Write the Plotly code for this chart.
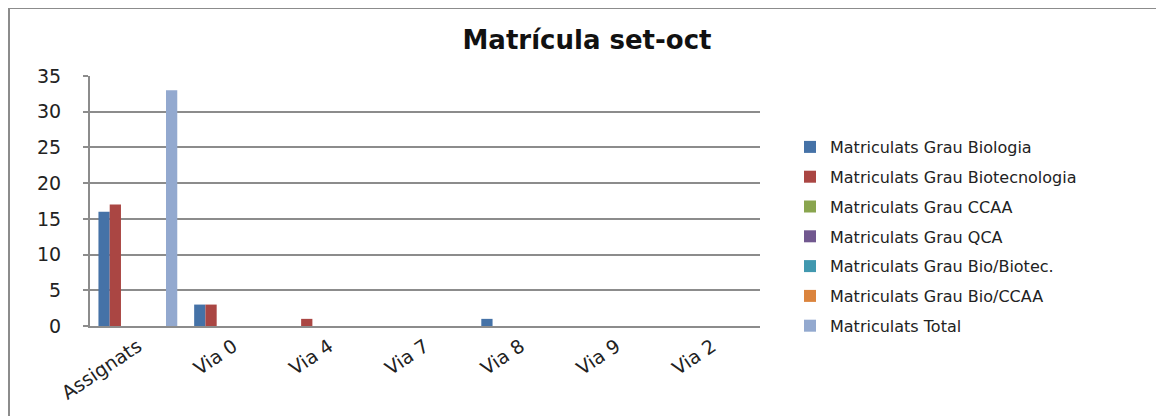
import plotly.graph_objects as go

categories = ["Assignats", "Via 0", "Via 4", "Via 7", "Via 8", "Via 9", "Via 2"]

series_names = [
    "Matriculats Grau Biologia",
    "Matriculats Grau Biotecnologia",
    "Matriculats Grau CCAA",
    "Matriculats Grau QCA",
    "Matriculats Grau Bio/Biotec.",
    "Matriculats Grau Bio/CCAA",
    "Matriculats Total",
]
biologia = [16, 3, 0, 0, 1, 0, 0]
biotecnologia = [17, 3, 1, 0, 0, 0, 0]
ccaa = [0, 0, 0, 0, 0, 0, 0]
qca = [0, 0, 0, 0, 0, 0, 0]
bio_biotec = [0, 0, 0, 0, 0, 0, 0]
bio_ccaa = [0, 0, 0, 0, 0, 0, 0]
total = [33, 0, 0, 0, 0, 0, 0]

series_values = [biologia, biotecnologia, ccaa, qca, bio_biotec, bio_ccaa, total]
colors = ["#4572A7", "#AA4643", "#89A54E", "#71588F", "#4198AF", "#DB843D", "#93A9CF"]

FONT = "DejaVu Sans"
GRID = "#8c8c8c"

fig = go.Figure()
for name, vals, col in zip(series_names, series_values, colors):
    fig.add_trace(go.Bar(x=categories, y=vals, name=name, legendgroup=name,
                         marker=dict(color=col, line=dict(width=0))))

# the page body adds an 8px margin, so work in screen pixels and shift
OFF = 8
W, H = 1164 - OFF, 416 - OFF
L, R, T, B = 90 - OFF, 760 - OFF, 76 - OFF, 326 - OFF
pw, ph = R - L, B - T

def px_x(p):
    return (p - OFF - L) / pw

def px_y(p):
    return (B - (p - OFF)) / ph

# outer chart border
fig.add_shape(type="rect", xref="paper", yref="paper",
              x0=px_x(9), x1=px_x(1162), y0=px_y(440), y1=px_y(8),
              line=dict(color="#8c8c8c", width=2), layer="below")

fig.update_layout(
    width=W, height=H,
    margin=dict(l=L, r=W - R, t=T, b=H - B),
    paper_bgcolor="white", plot_bgcolor="white",
    barmode="group", bargap=1.5 / 8.5, bargroupgap=0,
    title=dict(text="<b>Matrícula set-oct</b>", x=(587 - OFF) / W, xanchor="center",
               y=1 - (40 - OFF) / H, yanchor="middle",
               font=dict(family=FONT, size=26, color="#111")),
    font=dict(family=FONT, color="#222"),
    showlegend=True,
    legend=dict(x=px_x(790), xanchor="left", y=px_y(130), yanchor="top",
                font=dict(family=FONT, size=16, color="#222"),
                tracegroupgap=6, itemwidth=30, bgcolor="rgba(0,0,0,0)"),
    xaxis=dict(tickangle=-34, tickfont=dict(size=19, family=FONT),
               showline=True, linecolor=GRID, linewidth=2, ticks="",
               showgrid=False),
    yaxis=dict(range=[0, 35], dtick=5, showgrid=True, gridcolor=GRID,
               gridwidth=2, showline=True, linecolor=GRID, linewidth=2,
               ticks="outside", ticklen=5, tickcolor=GRID, tickwidth=2,
               tickfont=dict(size=19, family=FONT), ticklabelstandoff=18,
               zeroline=False),
)

fig.write_html("out.html")
